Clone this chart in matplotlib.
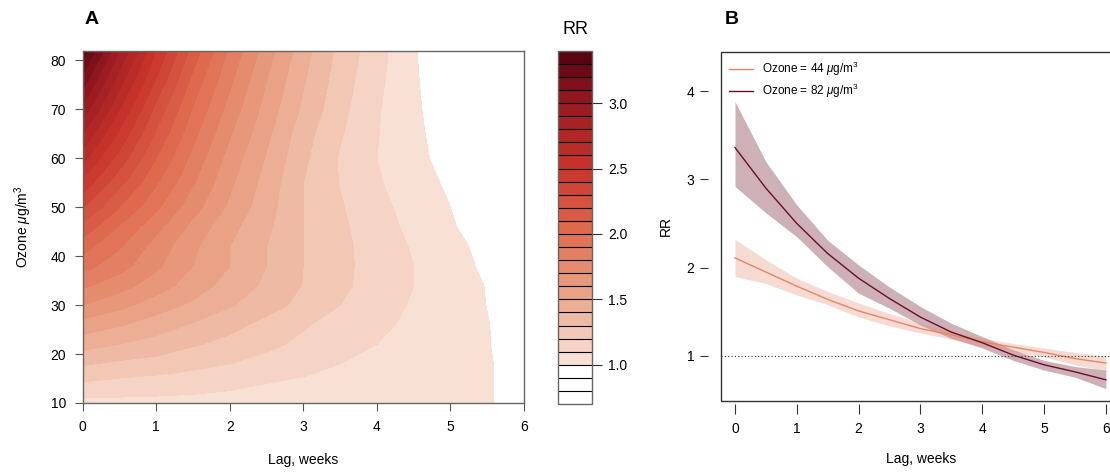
import numpy as np
import matplotlib.pyplot as plt
from matplotlib.colors import LinearSegmentedColormap
from matplotlib.patches import Rectangle

plt.rcParams['font.family'] = ['Liberation Sans', 'DejaVu Sans']
plt.rcParams['mathtext.fontset'] = 'custom'
plt.rcParams['mathtext.rm'] = 'Liberation Sans'
plt.rcParams['mathtext.it'] = 'Liberation Sans:italic'

# panel A surface: RR by ozone (rows) and lag (columns)
lags = [0, 0.5, 1, 1.5, 2, 2.5, 3, 3.5, 4, 4.5, 5, 5.5, 6]
ozone = [10, 14, 18, 22, 26, 30, 34, 38, 42, 46, 50, 55, 60, 65, 70, 76, 82]
rr_surface = [
    [1.07, 1.07, 1.07, 1.068, 1.065, 1.06, 1.055, 1.05, 1.045, 1.035, 1.02, 1.004, 0.98],
    [1.19, 1.17, 1.155, 1.14, 1.12, 1.10, 1.08, 1.065, 1.05, 1.035, 1.02, 1.004, 0.98],
    [1.31, 1.28, 1.26, 1.23, 1.20, 1.17, 1.14, 1.10, 1.08, 1.055, 1.03, 1.005, 0.975],
    [1.44, 1.40, 1.36, 1.31, 1.27, 1.22, 1.18, 1.14, 1.10, 1.07, 1.035, 1.003, 0.97],
    [1.56, 1.51, 1.45, 1.39, 1.33, 1.27, 1.21, 1.16, 1.12, 1.08, 1.04, 1.003, 0.96],
    [1.70, 1.63, 1.55, 1.48, 1.41, 1.34, 1.27, 1.20, 1.14, 1.09, 1.045, 0.998, 0.95],
    [1.82, 1.74, 1.65, 1.55, 1.46, 1.38, 1.295, 1.22, 1.16, 1.10, 1.05, 0.995, 0.945],
    [1.94, 1.84, 1.72, 1.60, 1.50, 1.40, 1.30, 1.225, 1.16, 1.10, 1.04, 0.98, 0.93],
    [2.04, 1.91, 1.76, 1.62, 1.50, 1.40, 1.30, 1.225, 1.155, 1.09, 1.03, 0.97, 0.92],
    [2.17, 1.99, 1.83, 1.67, 1.53, 1.42, 1.30, 1.22, 1.14, 1.075, 1.01, 0.95, 0.91],
    [2.31, 2.10, 1.92, 1.74, 1.58, 1.44, 1.30, 1.21, 1.127, 1.065, 1.00, 0.94, 0.89],
    [2.47, 2.23, 2.01, 1.81, 1.62, 1.46, 1.30, 1.195, 1.11, 1.05, 0.98, 0.92, 0.87],
    [2.63, 2.36, 2.10, 1.87, 1.66, 1.49, 1.32, 1.19, 1.10, 1.03, 0.96, 0.90, 0.85],
    [2.80, 2.48, 2.185, 1.93, 1.71, 1.525, 1.34, 1.21, 1.105, 1.025, 0.945, 0.88, 0.825],
    [2.97, 2.60, 2.27, 1.99, 1.76, 1.56, 1.38, 1.23, 1.11, 1.02, 0.93, 0.86, 0.80],
    [3.16, 2.75, 2.39, 2.07, 1.82, 1.60, 1.41, 1.25, 1.125, 1.015, 0.915, 0.84, 0.765],
    [3.36, 2.90, 2.50, 2.16, 1.88, 1.65, 1.44, 1.27, 1.14, 1.01, 0.90, 0.82, 0.73],
]

# panel B curves
lag_b = [0, 0.5, 1, 1.5, 2, 2.5, 3, 3.5, 4, 4.5, 5, 5.5, 6]
rr44 = [2.11, 1.95, 1.79, 1.64, 1.51, 1.41, 1.31, 1.24, 1.16, 1.10, 1.04, 0.97, 0.92]
lo44 = [1.90, 1.82, 1.69, 1.58, 1.44, 1.34, 1.26, 1.19, 1.11, 1.05, 0.99, 0.90, 0.83]
hi44 = [2.32, 2.09, 1.88, 1.73, 1.60, 1.48, 1.37, 1.28, 1.20, 1.14, 1.09, 1.04, 1.00]
rr82 = [3.36, 2.90, 2.50, 2.16, 1.88, 1.65, 1.44, 1.27, 1.15, 1.01, 0.90, 0.82, 0.73]
lo82 = [2.92, 2.62, 2.35, 2.01, 1.71, 1.54, 1.35, 1.20, 1.09, 0.95, 0.84, 0.76, 0.63]
hi82 = [3.88, 3.20, 2.71, 2.31, 2.03, 1.78, 1.56, 1.37, 1.22, 1.07, 0.95, 0.88, 0.84]

levels = np.round(np.arange(0.7, 3.45, 0.1), 1)
cbar_ticks = [1.0, 1.5, 2.0, 2.5, 3.0]

# colours of the key
anchor_v = [1.05, 1.5, 2.0, 2.5, 3.0, 3.35]
anchor_c = ['#f8e0d5', '#eaa78b', '#e06f51', '#c9342b', '#991a21', '#5a0313']
reds = LinearSegmentedColormap.from_list(
    'reds', [((v - 1.05) / 2.3, c) for v, c in zip(anchor_v, anchor_c)])
mids = (levels[:-1] + levels[1:]) / 2
colors = ['white' if m < 1.0 else reds((m - 1.05) / 2.3) for m in mids]

fig = plt.figure(figsize=(11.1, 4.72), dpi=100)

# ---- panel A
axA = fig.add_axes([0.0745, 0.1462, 0.3976, 0.7464])
cs = axA.contourf(lags, ozone, rr_surface, levels=levels, colors=colors)
axA.set_xlim(0, 6)
axA.set_ylim(10, 82)
axA.set_xticks(range(7))
axA.set_yticks(range(10, 81, 10))
axA.tick_params(direction='out', length=6, width=0.8, color='#555', labelsize=10, pad=6)
for s in axA.spines.values():
    s.set_color('#666')
    s.set_linewidth(1.0)
axA.set_xlabel('Lag, weeks', fontsize=10, labelpad=14)
axA.set_ylabel(r'Ozone $\mu$g/m$^3$', fontsize=10, labelpad=12)

cax = fig.add_axes([557.5 / 1110, 0.144, 34 / 1110, 0.7485])
cb = fig.colorbar(cs, cax=cax, drawedges=True, ticks=cbar_ticks)
cb.ax.set_yticklabels(['%.1f' % t for t in cbar_ticks])
cb.dividers.set_color('black')
cb.dividers.set_linewidth(0.8)
cb.outline.set_edgecolor('#666')
cb.outline.set_linewidth(1.0)
cb.ax.tick_params(direction='out', length=7, width=0.8, color='#333', labelsize=10, pad=5)
fig.text(575 / 1110, 1 - 30 / 472, 'RR', fontsize=13, ha='center', va='center')

fig.text(92 / 1110, 1 - 20 / 472, 'A', fontsize=14, fontweight='bold', ha='center', va='center')
fig.text(732 / 1110, 1 - 20 / 472, 'B', fontsize=14, fontweight='bold', ha='center', va='center')

# ---- panel B
c44 = '#e5866a'
c82 = '#6b0f26'
axB = fig.add_axes([720.7 / 1110, 71 / 472, 400 / 1110, 349.3 / 472])
axB.fill_between(lag_b, lo82, hi82, color=c82, alpha=0.33, lw=0)
axB.fill_between(lag_b, lo44, hi44, color=c44, alpha=0.30, lw=0)
axB.plot(lag_b, rr44, color=c44, lw=1.0, label=r'Ozone = 44 $\mu$g/m$^3$')
axB.plot(lag_b, rr82, color=c82, lw=1.0, label=r'Ozone = 82 $\mu$g/m$^3$')
axB.axhline(1, color='#333', lw=0.8, ls=(0, (1, 2)))
axB.set_xlim(-0.231, 6.24)
axB.set_ylim(0.49, 4.445)
axB.set_xticks(range(7))
axB.set_yticks([1, 2, 3, 4])
for s in axB.spines.values():
    s.set_visible(False)
axB.spines['left'].set_position(('outward', 9))
axB.spines['bottom'].set_position(('outward', 2))
axB.add_patch(Rectangle((0, 0), 1, 1, transform=axB.transAxes, fill=False,
                        ec='#333', lw=1.0, clip_on=False))
axB.tick_params(axis='x', direction='out', length=7, width=0.8, color='#333', labelsize=10, pad=6)
axB.tick_params(axis='y', direction='out', length=6, width=0.8, color='#333', labelsize=10, pad=4)
axB.set_xlabel('Lag, weeks', fontsize=10, labelpad=12)
axB.set_ylabel('RR', fontsize=10, labelpad=10)
axB.legend(loc='upper left', frameon=False, fontsize=8.5, handlelength=2.0,
           borderaxespad=0.3, labelspacing=0.3, bbox_to_anchor=(0.0, 1.0))

fig.savefig('out.png', dpi=100)
